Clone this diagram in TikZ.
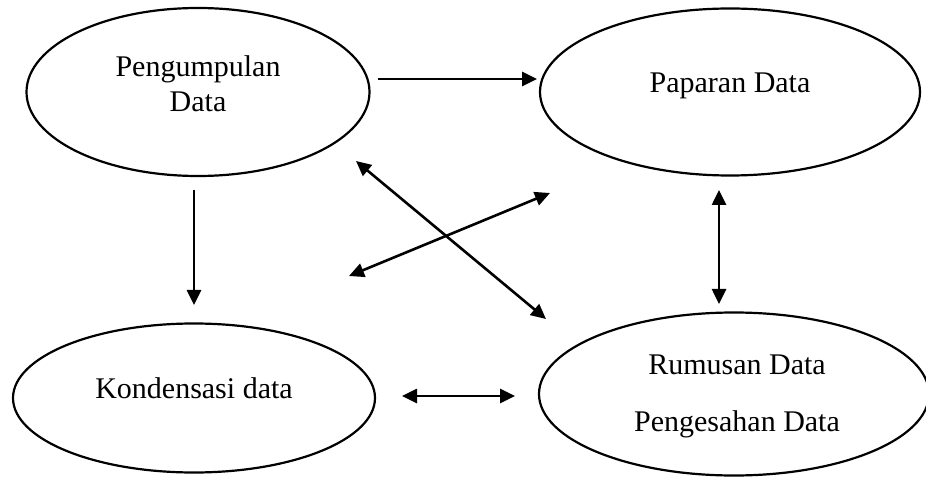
\documentclass[tikz,border=0pt]{standalone}
\usepackage{fontspec}
\setmainfont{Liberation Serif}
\usetikzlibrary{shapes.geometric,arrows.meta}
\begin{document}
\begin{tikzpicture}[x=1pt,y=-1pt,
  oval/.style={draw, ellipse, line width=2.2pt, inner sep=0pt},
  txt/.style={font=\fontsize{30}{35}\selectfont, align=center, inner sep=0pt},
  conn/.style={line width=2.6pt, -{Triangle[length=15pt,width=14pt]}},
  bconn/.style={line width=2.6pt, {Triangle[length=15pt,width=14pt]}-{Triangle[length=15pt,width=14pt]}}]
\useasboundingbox (0,0) rectangle (926,478);
% ellipses
\node[oval, minimum width=343pt, minimum height=168pt] (peng) at (198,92) {};
\node[oval, minimum width=380pt, minimum height=167pt] (papar) at (730,92) {};
\node[oval, minimum width=362pt, minimum height=149pt] (kond) at (194,398) {};
\node[oval, minimum width=390pt, minimum height=163pt] (rumus) at (734,394) {};
% texts
\node[txt] (pengT) at (198,83.3) {Pengumpulan\\Data};
\node[txt, anchor=base] (paparT) at (730,93) {Paparan Data};
\node[txt, anchor=base] (kondT) at (194,398) {Kondensasi data};
\node[txt] (rumusT) at (737,396.5) {Rumusan Data\\[22pt]Pengesahan Data};
% connector end points
\coordinate (a1s) at (378,79);  \coordinate (a1e) at (537,79);
\coordinate (a2s) at (194,190); \coordinate (a2e) at (194,305);
\coordinate (a3s) at (356,161); \coordinate (a3e) at (546,319);
\coordinate (a4s) at (349,276); \coordinate (a4e) at (550,193);
\coordinate (a5s) at (719,190); \coordinate (a5e) at (719,304);
\coordinate (a6s) at (402,396); \coordinate (a6e) at (515,396);
% connectors
\draw[conn] (a1s) -- (a1e);
\draw[conn] (a2s) -- (a2e);
\draw[bconn] (a3s) -- (a3e);
\draw[bconn] (a4s) -- (a4e);
\draw[bconn] (a5s) -- (a5e);
\draw[bconn] (a6s) -- (a6e);
\end{tikzpicture}
\end{document}
